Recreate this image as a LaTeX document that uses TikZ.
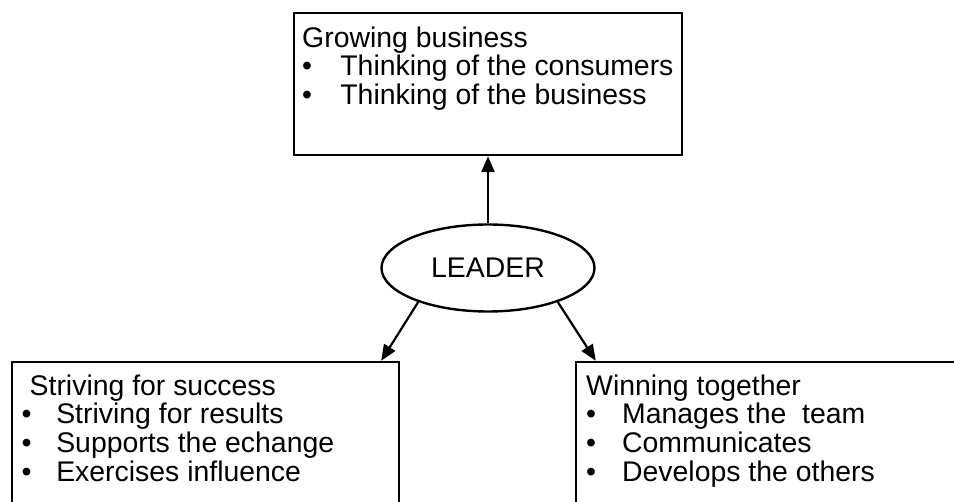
\documentclass[tikz,border=0pt]{standalone}
\usepackage{fontspec}
\setmainfont{Liberation Sans}
\usetikzlibrary{shapes.geometric,arrows.meta}

% bullet item, #1 = indent of the item text
\newcommand{\pnt}[2][19pt]{\makebox[#1][l]{\textbullet}#2}

\begin{document}
\begin{tikzpicture}[x=0.5pt,y=-0.5pt,
    box/.style={draw, rectangle, line width=1.2pt, inner sep=0pt},
    list/.style={anchor=north west, inner sep=0pt, align=left,
      font=\fontsize{14.2}{14.3}\selectfont},
    link/.style={line width=1.1pt, -{Triangle[length=8pt,width=6.5pt]}}]
  \useasboundingbox (0,0) rectangle (954,502);
  \clip (0,0) rectangle (954,502);

  % the three boxes
  \node[box, minimum width=194pt, minimum height=71pt] (grow) at (488,84) {};
  \node[box, minimum width=193.5pt, minimum height=84pt] (strive) at (205.5,446) {};
  \node[box, minimum width=194.5pt, minimum height=84pt] (win) at (770.5,446) {};

  % their texts
  \node[list] (growtxt) at ([shift={(4.5pt,-7.2pt)}]grow.north west)
    {Growing business\\
     \pnt[19.1pt]{Thinking of the consumers}\\
     \pnt[19.1pt]{Thinking of the business}};
  \node[list] (strivetxt) at ([shift={(5.25pt,-6.8pt)}]strive.north west)
    {\hspace*{4pt}Striving for success\\
     \pnt[17.3pt]{Striving for results}\\
     \pnt[17.3pt]{Supports the echange}\\
     \pnt[17.3pt]{Exercises influence}};
  \node[list] (wintxt) at ([shift={(5.5pt,-6.8pt)}]win.north west)
    {Winning together\\
     \pnt[18pt]{Manages the\ \ team}\\
     \pnt[18pt]{Communicates}\\
     \pnt[18pt]{Develops the others}};

  % centre
  \node[draw, ellipse, line width=1.2pt, inner sep=0pt,
    minimum width=106.5pt, minimum height=43.5pt,
    font=\fontsize{14.2}{14.2}\selectfont] (leader) at (488,268) {LEADER};

  \draw[link] (leader) -- (grow);
  \draw[link] (leader.206) -- ([xshift=-9.5pt]strive.north east);
  \draw[link] (leader.334) -- ([xshift=10.5pt]win.north west);
\end{tikzpicture}
\end{document}
